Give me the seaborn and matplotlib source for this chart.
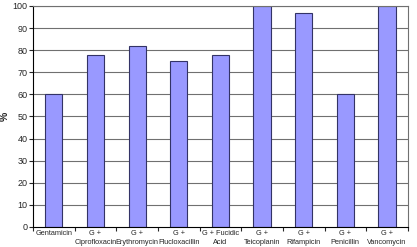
import matplotlib

matplotlib.use("Agg")
import matplotlib.pyplot as plt
import numpy as np
import pandas as pd
import seaborn as sns

CATEGORIES = [
    "Gentamicin",
    "G +\nCiprofloxacin",
    "G +\nErythromycin",
    "G +\nFlucloxacillin",
    "G + Fucidic\nAcid",
    "G +\nTeicoplanin",
    "G +\nRifampicin",
    "G +\nPenicillin",
    "G +\nVancomycin",
]
PERCENT = [60, 78, 82, 75, 78, 100, 97, 60, 100]
Y_TICKS = list(range(0, 101, 10))

df = pd.DataFrame({"drug": CATEGORIES, "pct": PERCENT})

sns.set_style("white")
plt.rcParams["font.family"] = ["Liberation Sans", "DejaVu Sans"]

fig = plt.figure(figsize=(4.17, 2.47), dpi=100)
ax = fig.add_axes([0.079, 0.081, 0.899, 0.895])

for y in Y_TICKS[1:]:
    ax.axhline(y, color="#707070", linewidth=0.8, zorder=0)

sns.barplot(
    data=df, x="drug", y="pct", ax=ax, color="#9999ff",
    saturation=1, width=0.41, edgecolor="#333366", linewidth=0.8, zorder=2,
)

ax.set_ylim(0, 100)
ax.set_xlim(-0.5, len(CATEGORIES) - 0.5)
ax.set_yticks(Y_TICKS)
ax.tick_params(axis="y", labelsize=6.5, length=3, width=0.8, direction="out",
               left=True, pad=1)
ax.set_xticks(range(len(CATEGORIES)))
ax.set_xticklabels(CATEGORIES, fontsize=5.3, linespacing=1.4)
ax.tick_params(axis="x", length=0, pad=2)
ax.set_xticks(np.arange(-0.5, len(CATEGORIES), 1.0), minor=True)
ax.tick_params(axis="x", which="minor", length=3, width=0.8, bottom=True)

ax.set_xlabel("")
ax.set_ylabel("%", fontsize=7.5, fontweight="bold")
ax.yaxis.set_label_coords(-0.062, 0.5)

for side in ["left", "bottom"]:
    ax.spines[side].set_color("black")
    ax.spines[side].set_linewidth(0.8)
for side in ["top", "right"]:
    ax.spines[side].set_color("#707070")
    ax.spines[side].set_linewidth(0.8)

fig.savefig("out.png", dpi=100)
